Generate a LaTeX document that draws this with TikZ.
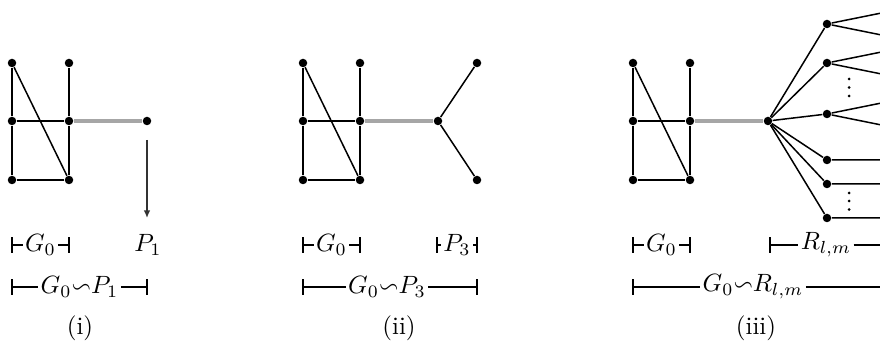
\documentclass[tikz,border=0pt]{standalone}
\usepackage{amssymb}
\usetikzlibrary{arrows.meta}

\begin{document}
\begin{tikzpicture}[
  x=0.4pt, y=-0.4pt,
  dot/.style={circle, fill=black, inner sep=0pt, minimum size=3.4pt},
  edge/.style={line width=0.6pt},
  bridge/.style={line width=1.7pt, color=black!35},
  lab/.style={inner sep=0.8pt},
  barn/.style={line width=0.45pt},
  tick/.style={barn, yshift=-3.2pt}
]
  \useasboundingbox (0,0) rectangle (880,351);

  % the graph G_0, once per part
  \foreach \d/\ox in {i/0, ii/291, iii/621} {
    \begin{scope}[shift={(\ox,0)}]
      \node[dot] (\d-tl) at (12,63) {};
      \node[dot] (\d-tr) at (69,63) {};
      \node[dot] (\d-ml) at (12,121) {};
      \node[dot] (\d-mr) at (69,121) {};
      \node[dot] (\d-bl) at (12,180) {};
      \node[dot] (\d-br) at (69,180) {};
      \draw[edge] (\d-tl) -- (\d-ml) -- (\d-bl) -- (\d-br) -- (\d-mr) -- (\d-tr);
      \draw[edge] (\d-ml) -- (\d-mr);
      \draw[edge] (\d-tl) -- (\d-br);
      % span of G_0
      \coordinate (\d-ga) at (12,245);
      \coordinate (\d-gb) at (69,245);
      \node[lab] (\d-g) at (40.5,245) {$G_0$};
      \draw[barn] (\d-ga) -- (\d-g.west) (\d-g.east) -- (\d-gb);
      \draw[barn] ([yshift=-3.2pt]\d-ga) -- ([yshift=3.2pt]\d-ga)
                  ([yshift=-3.2pt]\d-gb) -- ([yshift=3.2pt]\d-gb);
    \end{scope}
  }

  % (i)
  \node[dot] (p1) at (147,121) {};
  \draw[bridge] (i-mr) -- (p1);
  \coordinate (p1a) at (147,140);
  \coordinate (p1b) at (147,218);
  \draw[line width=0.55pt, black!80, -{Latex[length=3pt, width=2.6pt]}] (p1a) -- (p1b);
  \node[lab] (p1lab) at (148,245) {$P_1$};
  \coordinate (ia) at (12,287);
  \coordinate (ib) at (147,287);
  \node[lab] (isum) at (79.5,287) {$G_0{\backsim}P_1$};
  \draw[barn] (ia) -- (isum.west) (isum.east) -- (ib);
  \draw[barn] ([yshift=-3.2pt]ia) -- ([yshift=3.2pt]ia)
              ([yshift=-3.2pt]ib) -- ([yshift=3.2pt]ib);
  \node (capi) at (80,328) {(i)};

  % (ii)
  \node[dot] (p3c) at (438,121) {};
  \node[dot] (p3t) at (477,63) {};
  \node[dot] (p3b) at (477,180) {};
  \draw[bridge] (ii-mr) -- (p3c);
  \draw[edge] (p3t) -- (p3c) -- (p3b);
  \coordinate (p3a) at (437,245);
  \coordinate (p3z) at (477,245);
  \node[lab] (p3lab) at (457,245) {$P_3$};
  \draw[barn] (p3a) -- (p3lab.west) (p3lab.east) -- (p3z);
  \draw[barn] ([yshift=-3.2pt]p3a) -- ([yshift=3.2pt]p3a)
              ([yshift=-3.2pt]p3z) -- ([yshift=3.2pt]p3z);
  \coordinate (iia) at (303,287);
  \coordinate (iib) at (477,287);
  \node[lab] (iisum) at (387,287) {$G_0{\backsim}P_3$};
  \draw[barn] (iia) -- (iisum.west) (iisum.east) -- (iib);
  \draw[barn] ([yshift=-3.2pt]iia) -- ([yshift=3.2pt]iia)
              ([yshift=-3.2pt]iib) -- ([yshift=3.2pt]iib);
  \node (capii) at (399,328) {(ii)};

  % (iii)
  \node[dot] (hub) at (768,121) {};
  \draw[bridge] (iii-mr) -- (hub);
  \foreach \n/\y in {1/24, 2/63, 3/114} {
    \node[dot] (up-\n) at (827,\y) {};
    \coordinate (up-\n-a) at (880,\y-10.7);
    \coordinate (up-\n-b) at (880,\y+10.7);
    \draw[edge] (hub) -- (up-\n);
    \draw[edge] (up-\n-a) -- (up-\n) -- (up-\n-b);
  }
  \foreach \n/\y in {1/160, 2/184, 3/218} {
    \node[dot] (lo-\n) at (827,\y) {};
    \coordinate (lo-\n-a) at (880,\y);
    \draw[edge] (hub) -- (lo-\n) -- (lo-\n-a);
  }
  \foreach \y in {79, 87.5, 96, 193, 201, 209.5}
    \fill (849,\y) circle (0.6pt);
  \coordinate (ra) at (770,245);
  \coordinate (rb) at (880,245);
  \node[lab] (rlab) at (826,245) {$R_{l,m}$};
  \draw[barn] (ra) -- (rlab.west) (rlab.east) -- (rb);
  \draw[barn] ([yshift=-3.2pt]ra) -- ([yshift=3.2pt]ra);
  \coordinate (iiia) at (633,287);
  \coordinate (iiib) at (880,287);
  \node[lab] (iiisum) at (753,287) {$G_0{\backsim}R_{l,m}$};
  \draw[barn] (iiia) -- (iiisum.west) (iiisum.east) -- (iiib);
  \draw[barn] ([yshift=-3.2pt]iiia) -- ([yshift=3.2pt]iiia);
  \node (capiii) at (756,328) {(iii)};
\end{tikzpicture}
\end{document}
